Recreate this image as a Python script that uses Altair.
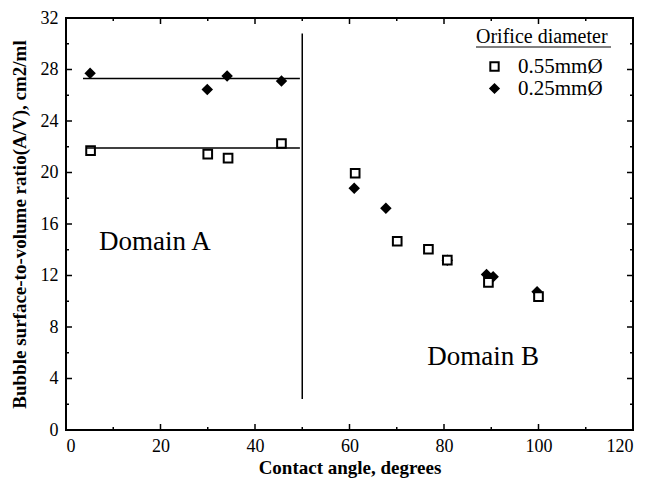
import altair as alt
import pandas as pd

FONT = "Liberation Serif"
W, H = 567, 412

series_labels = ["0.55mmØ", "0.25mmØ"]
angle_055 = [5.2, 30.0, 34.3, 45.6, 61.2, 70.1, 76.7, 80.7, 89.4, 100.0]
ratio_055 = [21.7, 21.43, 21.12, 22.25, 19.94, 14.66, 14.04, 13.19, 11.46, 10.36]
angle_025 = [5.1, 29.9, 34.1, 45.6, 61.0, 67.7, 80.7, 89.0, 90.4, 99.7]
ratio_025 = [27.7, 26.45, 27.5, 27.1, 18.78, 17.23, 13.19, 12.08, 11.9, 10.74]

fit_y = [27.3, 21.9]
fit_x_start = [3.6, 4.4]
fit_x_end = [49.5, 49.5]
divider_x = [50]
divider_y_start = [2.4]
divider_y_end = [30.8]

domain_names = ["Domain A", "Domain B"]
domain_x = [18.8, 88.3]
domain_y = [14.6, 5.7]

x_major = list(range(0, 121, 20))
x_minor = list(range(10, 120, 20))
y_major = list(range(0, 33, 4))
y_minor = list(range(2, 32, 4))

pts = pd.DataFrame({
    "angle": angle_025 + angle_055,
    "ratio": ratio_025 + ratio_055,
    "series": [series_labels[1]] * len(angle_025) + [series_labels[0]] * len(angle_055),
})
fits = pd.DataFrame({"x": fit_x_start, "x2": fit_x_end, "y": fit_y})
div = pd.DataFrame({"x": divider_x, "y": divider_y_start, "y2": divider_y_end})
doms = pd.DataFrame({"name": domain_names, "x": domain_x, "y": domain_y})

xs = alt.Scale(domain=[0, 120], nice=False, zero=False)
ys = alt.Scale(domain=[0, 32], nice=False, zero=False)

leg = alt.Legend(title=None, orient="none", legendX=418, legendY=38,
                 labelFont=FONT, labelFontSize=21, labelColor="black",
                 labelOffset=13, rowPadding=0, symbolSize=70,
                 symbolStrokeWidth=2)

points = alt.Chart(pts).mark_point(size=75, strokeWidth=2, opacity=1).encode(
    x=alt.X("angle:Q", scale=xs, title="Contact angle, degrees",
            axis=alt.Axis(values=x_major, grid=False, domain=False, ticks=False,
                          labelPadding=7, titlePadding=3)),
    y=alt.Y("ratio:Q", scale=ys, title="Bubble surface-to-volume ratio(A/V), cm2/ml",
            axis=alt.Axis(values=y_major, grid=False, domain=False, ticks=False,
                          labelPadding=8, titlePadding=11)),
    shape=alt.Shape("series:N", scale=alt.Scale(domain=series_labels, range=["square", "diamond"]), legend=leg),
    fill=alt.Fill("series:N", scale=alt.Scale(domain=series_labels, range=["white", "black"]), legend=leg),
    stroke=alt.Stroke("series:N", scale=alt.Scale(domain=series_labels, range=["black", "black"]), legend=leg),
)

fit_lines = alt.Chart(fits).mark_rule(color="black", strokeWidth=1.5).encode(
    x=alt.X("x:Q", scale=xs, axis=None), x2="x2:Q", y=alt.Y("y:Q", scale=ys, axis=None))

divider = alt.Chart(div).mark_rule(color="black", strokeWidth=1.5).encode(
    x=alt.X("x:Q", scale=xs, axis=None), y=alt.Y("y:Q", scale=ys, axis=None), y2="y2:Q")

dom_text = alt.Chart(doms).mark_text(font=FONT, fontSize=27, color="black").encode(
    x=alt.X("x:Q", scale=xs, axis=None), y=alt.Y("y:Q", scale=ys, axis=None), text="name:N")

def xticks(vals, length):
    d = pd.DataFrame({"t": vals})
    b = alt.Chart(d).mark_rule(color="black", strokeWidth=1.5).encode(
        x=alt.X("t:Q", scale=xs, axis=None), y=alt.value(H), y2=alt.value(H - length))
    t = alt.Chart(d).mark_rule(color="black", strokeWidth=1.5).encode(
        x=alt.X("t:Q", scale=xs, axis=None), y=alt.value(0), y2=alt.value(length))
    return [b, t]

def yticks(vals, length):
    d = pd.DataFrame({"t": vals})
    l = alt.Chart(d).mark_rule(color="black", strokeWidth=1.5).encode(
        y=alt.Y("t:Q", scale=ys, axis=None), x=alt.value(0), x2=alt.value(length))
    r = alt.Chart(d).mark_rule(color="black", strokeWidth=1.5).encode(
        y=alt.Y("t:Q", scale=ys, axis=None), x=alt.value(W), x2=alt.value(W - length))
    return [l, r]

legend_title = alt.Chart(pd.DataFrame({"t": ["Orifice diameter"]})).mark_text(
    font=FONT, fontSize=20, color="black", align="left", baseline="alphabetic").encode(
    x=alt.value(410), y=alt.value(25), text="t:N")
underline = alt.Chart(pd.DataFrame({"t": [0]})).mark_rule(color="black", strokeWidth=1).encode(
    x=alt.value(410), x2=alt.value(545), y=alt.value(29))

layers = [points, fit_lines, divider, dom_text, legend_title, underline]
layers += xticks(x_major, 6) + xticks(x_minor, 3) + yticks(y_major, 6) + yticks(y_minor, 3)

chart = alt.layer(*layers).resolve_axis(x="independent", y="independent").properties(
    width=W, height=H,
    autosize=alt.AutoSizeParams(type="none"),
    padding={"left": 58, "top": 10, "right": 7, "bottom": 48},
).configure_view(stroke="black", strokeWidth=2).configure_axis(
    labelFont=FONT, labelFontSize=18, labelColor="black",
    titleFont=FONT, titleFontSize=19, titleFontWeight="bold", titleColor="black",
)

chart.save("out.html", embed_options={"renderer": "svg", "actions": False})
